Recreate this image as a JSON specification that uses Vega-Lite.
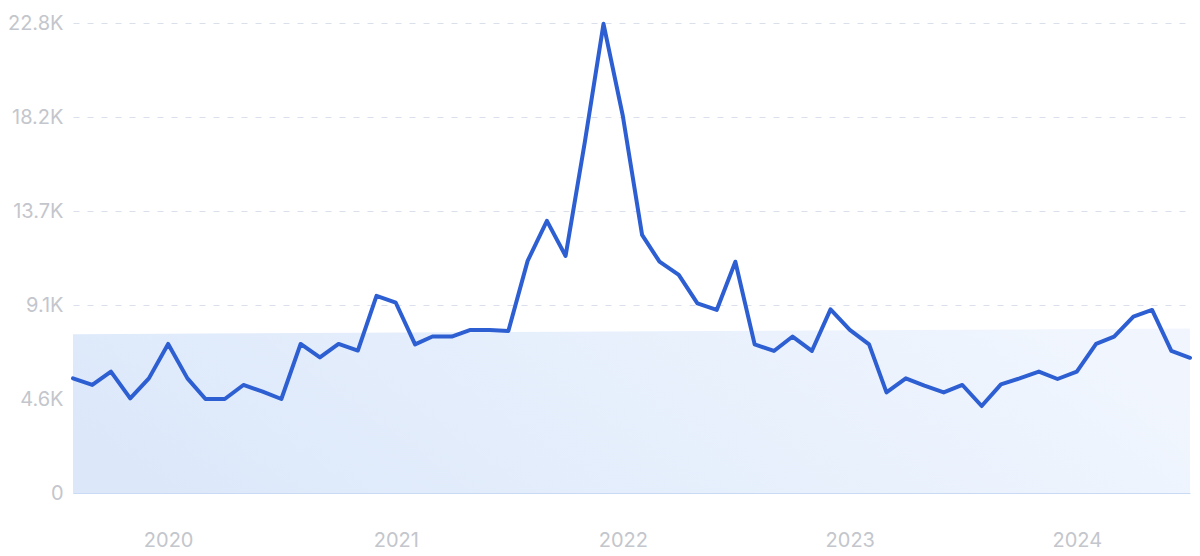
{
  "$schema": "https://vega.github.io/schema/vega-lite/v6.json",
  "width": 1117,
  "height": 470,
  "autosize": {"type": "none"},
  "padding": {"left": 73, "top": 23, "right": 10, "bottom": 63},
  "background": "#ffffff",
  "config": {
    "view": {"stroke": null},
    "font": "Inter"
  },
  "datasets": {
    "series": [
      {"date": "2019-08-01T00:00:00", "value": 5560},
      {"date": "2019-09-01T00:00:00", "value": 5240},
      {"date": "2019-10-01T00:00:00", "value": 5890},
      {"date": "2019-11-01T00:00:00", "value": 4590},
      {"date": "2019-12-01T00:00:00", "value": 5560},
      {"date": "2020-01-01T00:00:00", "value": 7230},
      {"date": "2020-02-01T00:00:00", "value": 5560},
      {"date": "2020-03-01T00:00:00", "value": 4560},
      {"date": "2020-04-01T00:00:00", "value": 4560},
      {"date": "2020-05-01T00:00:00", "value": 5240},
      {"date": "2020-06-01T00:00:00", "value": 4920},
      {"date": "2020-07-01T00:00:00", "value": 4560},
      {"date": "2020-08-01T00:00:00", "value": 7230},
      {"date": "2020-09-01T00:00:00", "value": 6580},
      {"date": "2020-10-01T00:00:00", "value": 7230},
      {"date": "2020-11-01T00:00:00", "value": 6910},
      {"date": "2020-12-01T00:00:00", "value": 9560},
      {"date": "2021-01-01T00:00:00", "value": 9230},
      {"date": "2021-02-01T00:00:00", "value": 7210},
      {"date": "2021-03-01T00:00:00", "value": 7590},
      {"date": "2021-04-01T00:00:00", "value": 7590},
      {"date": "2021-05-01T00:00:00", "value": 7910},
      {"date": "2021-06-01T00:00:00", "value": 7910},
      {"date": "2021-07-01T00:00:00", "value": 7860},
      {"date": "2021-08-01T00:00:00", "value": 11260},
      {"date": "2021-09-01T00:00:00", "value": 13200},
      {"date": "2021-10-01T00:00:00", "value": 11500},
      {"date": "2021-11-01T00:00:00", "value": 17030},
      {"date": "2021-12-01T00:00:00", "value": 22760},
      {"date": "2022-01-01T00:00:00", "value": 18300},
      {"date": "2022-02-01T00:00:00", "value": 12520},
      {"date": "2022-03-01T00:00:00", "value": 11220},
      {"date": "2022-04-01T00:00:00", "value": 10580},
      {"date": "2022-05-01T00:00:00", "value": 9200},
      {"date": "2022-06-01T00:00:00", "value": 8880},
      {"date": "2022-07-01T00:00:00", "value": 11220},
      {"date": "2022-08-01T00:00:00", "value": 7210},
      {"date": "2022-09-01T00:00:00", "value": 6890},
      {"date": "2022-10-01T00:00:00", "value": 7590},
      {"date": "2022-11-01T00:00:00", "value": 6890},
      {"date": "2022-12-01T00:00:00", "value": 8910},
      {"date": "2023-01-01T00:00:00", "value": 7910},
      {"date": "2023-02-01T00:00:00", "value": 7210},
      {"date": "2023-03-01T00:00:00", "value": 4880},
      {"date": "2023-04-01T00:00:00", "value": 5560},
      {"date": "2023-05-01T00:00:00", "value": 5210},
      {"date": "2023-06-01T00:00:00", "value": 4880},
      {"date": "2023-07-01T00:00:00", "value": 5240},
      {"date": "2023-08-01T00:00:00", "value": 4220},
      {"date": "2023-09-01T00:00:00", "value": 5270},
      {"date": "2023-10-01T00:00:00", "value": 5560},
      {"date": "2023-11-01T00:00:00", "value": 5890},
      {"date": "2023-12-01T00:00:00", "value": 5530},
      {"date": "2024-01-01T00:00:00", "value": 5890},
      {"date": "2024-02-01T00:00:00", "value": 7230},
      {"date": "2024-03-01T00:00:00", "value": 7590},
      {"date": "2024-04-01T00:00:00", "value": 8560},
      {"date": "2024-05-01T00:00:00", "value": 8880},
      {"date": "2024-06-01T00:00:00", "value": 6890},
      {"date": "2024-07-01T00:00:00", "value": 6560}
    ],
    "band": [
      {"date": "2019-08-01T00:00:00", "value": 7700},
      {"date": "2024-07-01T00:00:00", "value": 7980}
    ]
  },
  "layer": [
    {
      "data": {"name": "band"},
      "mark": {
        "type": "area",
        "color": {
          "gradient": "linear",
          "x1": 0, "y1": 0.6, "x2": 1, "y2": 0.4,
          "stops": [
            {"offset": 0, "color": "#dce8fa"},
            {"offset": 0.5, "color": "#e6effc"},
            {"offset": 1, "color": "#f1f6fe"}
          ]
        }
      },
      "encoding": {
        "x": {
          "field": "date", "type": "temporal",
          "scale": {"domain": [{"year": 2019, "month": 8, "date": 1}, {"year": 2024, "month": 7, "date": 1}], "nice": false},
          "axis": {
            "values": [{"year": 2020, "month": 1, "date": 1}, {"year": 2021, "month": 1, "date": 1}, {"year": 2022, "month": 1, "date": 1}, {"year": 2023, "month": 1, "date": 1}, {"year": 2024, "month": 1, "date": 1}],
            "format": "%Y",
            "title": null,
            "grid": false,
            "ticks": false,
            "domain": true,
            "domainColor": "#c8daf4",
            "domainWidth": 1,
            "labelPadding": 37,
            "labelFontSize": 20,
            "labelColor": "#c3c6cc",
            "labelFont": "Inter",
            "labelFlush": false
          }
        },
        "y": {
          "field": "value", "type": "quantitative",
          "scale": {"domain": [0, 22800], "nice": false, "zero": true},
          "axis": {
            "values": [0, 4560, 9120, 13680, 18240, 22800],
            "labelExpr": "datum.value == 0 ? '0' : format(datum.value / 1000, '.1f') + 'K'",
            "title": null,
            "grid": true,
            "gridColor": "#d9e0ec",
            "gridDash": [6, 8],
            "gridWidth": 1,
            "ticks": false,
            "domain": false,
            "labelPadding": 10,
            "labelFontSize": 20,
            "labelColor": "#c3c6cc",
            "labelFont": "Inter"
          }
        }
      }
    },
    {
      "data": {"name": "series"},
      "mark": {"type": "line", "color": "#2d5fd2", "strokeWidth": 4, "strokeJoin": "round", "strokeCap": "round"},
      "encoding": {
        "x": {"field": "date", "type": "temporal"},
        "y": {"field": "value", "type": "quantitative"}
      }
    }
  ]
}
